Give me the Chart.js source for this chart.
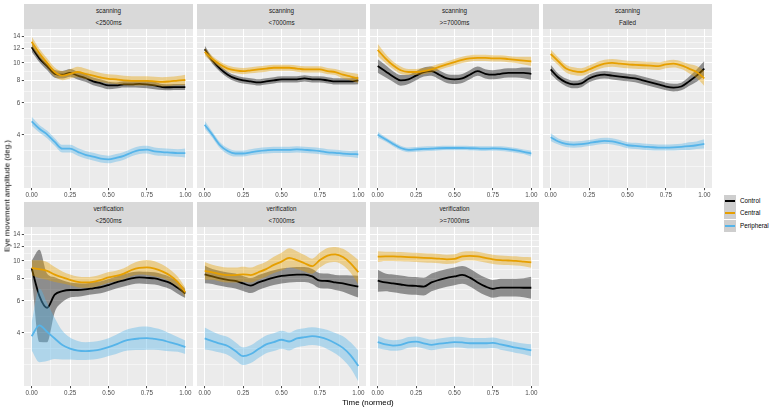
<!DOCTYPE html>
<html>
<head>
<meta charset="utf-8">
<script src="https://cdn.jsdelivr.net/npm/chart.js@4.4.1/dist/chart.umd.min.js"></script>
<style>
  body { margin: 0; width: 775px; height: 411px; background: #fff; position: relative; overflow: hidden;
         font-family: "Liberation Sans", Arial, sans-serif; }
  canvas { position: absolute; }
  .strip { position: absolute; background: #d9d9d9; color: #1a1a1a; font-size: 6.3px; }
  .strip span { position: absolute; left: 0; right: 0; text-align: center; line-height: 1; transform: translateY(-50%); }
  .ytitle { position: absolute; font-size: 7.9px; white-space: nowrap; transform: translate(-50%, -50%) rotate(-90deg); }
  .xtitle { position: absolute; font-size: 7.9px; white-space: nowrap; transform: translate(-50%, -50%); }
  .key { position: absolute; background: #cecece; }
  .key i { position: absolute; left: 1.3px; right: 1.3px; top: 50%; height: 1.8px; margin-top: -0.9px; }
  .ltext { position: absolute; font-size: 6.3px; line-height: 1; transform: translateY(-50%); }
</style>
</head>
<body>
<script>
// time axis (normed), shared by every panel
const timePoints = [0, 0.05, 0.1, 0.15, 0.2, 0.25, 0.3, 0.35, 0.4, 0.45, 0.5,
                    0.55, 0.6, 0.65, 0.7, 0.75, 0.8, 0.85, 0.9, 0.95, 1];

const groups = ["Control", "Central", "Peripheral"];
const groupColors = ["#000000", "#E69F00", "#56B4E9"];
const groupFills = ["rgba(0,0,0,0.4)", "rgba(230,159,0,0.4)", "rgba(86,180,233,0.4)"];

const facetPhase = ["scanning", "scanning", "scanning", "scanning", "verification", "verification", "verification"];
const facetWindow = ["<2500ms", "<7000ms", ">=7000ms", "Failed", "<2500ms", "<7000ms", ">=7000ms"];

const yMajor = [4, 6, 8, 10, 12, 14];
const yMinor = [2.667, 3.266, 4.899, 6.928, 8.944, 10.954, 12.961];
const xMajor = [0, 0.25, 0.5, 0.75, 1];
const xMinor = [0.125, 0.375, 0.625, 0.875];
const xTickLabels = ["0.00", "0.25", "0.50", "0.75", "1.00"];

// smoothed means and confidence band (multiplicative half width) per facet
const scan2500Control = [12.2, 10.6, 9.6, 8.7, 8.6, 8.8, 8.5, 8.25, 7.9, 7.7, 7.5, 7.5, 7.6, 7.6, 7.65, 7.6, 7.5, 7.35, 7.33, 7.35, 7.35];
const scan2500ControlBand = [1.06, 1.05, 1.05, 1.05, 1.05, 1.05, 1.05, 1.05, 1.05, 1.05, 1.05, 1.04, 1.04, 1.04, 1.05, 1.05, 1.05, 1.04, 1.04, 1.04, 1.04];
const scan2500Central = [13.1, 11.3, 10.0, 8.9, 8.5, 8.7, 8.9, 8.7, 8.5, 8.3, 8.15, 8.1, 8.0, 7.95, 7.95, 7.95, 7.9, 7.85, 7.9, 7.98, 8.04];
const scan2500CentralBand = [1.07, 1.06, 1.06, 1.06, 1.06, 1.06, 1.07, 1.07, 1.06, 1.06, 1.06, 1.06, 1.06, 1.06, 1.06, 1.06, 1.06, 1.06, 1.06, 1.06, 1.07];
const scan2500Peripheral = [4.75, 4.32, 4.02, 3.65, 3.35, 3.35, 3.22, 3.1, 3.03, 2.95, 2.92, 2.98, 3.06, 3.19, 3.29, 3.31, 3.24, 3.21, 3.19, 3.17, 3.17];
const scan2500PeripheralBand = [1.06, 1.05, 1.05, 1.05, 1.05, 1.05, 1.05, 1.05, 1.05, 1.05, 1.05, 1.05, 1.05, 1.05, 1.05, 1.05, 1.05, 1.05, 1.05, 1.05, 1.06];

const scan7000Control = [11.9, 10.3, 9.3, 8.6, 8.2, 8.0, 7.9, 7.8, 7.9, 8.0, 8.1, 8.1, 8.1, 8.2, 8.1, 8.1, 8.0, 7.9, 7.9, 7.9, 8.0];
const scan7000ControlBand = [1.05, 1.04, 1.04, 1.04, 1.04, 1.04, 1.04, 1.04, 1.04, 1.04, 1.04, 1.04, 1.04, 1.04, 1.04, 1.04, 1.04, 1.04, 1.04, 1.04, 1.05];
const scan7000Central = [11.5, 10.5, 9.8, 9.3, 9.1, 9.0, 9.1, 9.2, 9.3, 9.4, 9.4, 9.4, 9.3, 9.2, 9.2, 9.2, 9.0, 8.9, 8.6, 8.4, 8.2];
const scan7000CentralBand = [1.05, 1.04, 1.04, 1.04, 1.04, 1.04, 1.04, 1.04, 1.04, 1.04, 1.04, 1.04, 1.04, 1.04, 1.04, 1.04, 1.04, 1.04, 1.05, 1.05, 1.06];
const scan7000Peripheral = [4.55, 4.0, 3.5, 3.25, 3.15, 3.15, 3.2, 3.25, 3.28, 3.3, 3.3, 3.3, 3.32, 3.3, 3.28, 3.25, 3.2, 3.18, 3.15, 3.13, 3.12];
const scan7000PeripheralBand = [1.05, 1.04, 1.04, 1.04, 1.04, 1.04, 1.04, 1.04, 1.04, 1.04, 1.04, 1.04, 1.04, 1.04, 1.04, 1.04, 1.04, 1.04, 1.04, 1.04, 1.05];

const scanOver7000Control = [9.6, 9.0, 8.4, 8.0, 8.1, 8.5, 8.9, 9.0, 8.6, 8.2, 8.1, 8.2, 8.6, 9.0, 8.7, 8.6, 8.7, 8.8, 8.8, 8.8, 8.7];
const scanOver7000ControlBand = [1.09, 1.08, 1.07, 1.07, 1.06, 1.06, 1.06, 1.06, 1.06, 1.06, 1.06, 1.06, 1.06, 1.06, 1.06, 1.06, 1.06, 1.06, 1.06, 1.07, 1.08];
const scanOver7000Central = [11.8, 10.6, 9.7, 9.1, 8.9, 8.9, 9.0, 9.2, 9.5, 9.8, 10.1, 10.4, 10.6, 10.65, 10.65, 10.6, 10.6, 10.5, 10.4, 10.3, 10.2];
const scanOver7000CentralBand = [1.08, 1.06, 1.05, 1.05, 1.04, 1.04, 1.04, 1.04, 1.04, 1.04, 1.04, 1.04, 1.04, 1.04, 1.04, 1.04, 1.04, 1.04, 1.04, 1.05, 1.06];
const scanOver7000Peripheral = [4.0, 3.78, 3.56, 3.38, 3.3, 3.32, 3.34, 3.35, 3.37, 3.38, 3.38, 3.38, 3.37, 3.36, 3.35, 3.36, 3.35, 3.32, 3.28, 3.22, 3.15];
const scanOver7000PeripheralBand = [1.04, 1.03, 1.03, 1.03, 1.03, 1.03, 1.03, 1.03, 1.03, 1.03, 1.03, 1.03, 1.03, 1.03, 1.03, 1.03, 1.03, 1.03, 1.03, 1.03, 1.04];

const scanFailedControl = [9.2, 8.3, 7.8, 7.6, 7.7, 8.2, 8.5, 8.6, 8.5, 8.4, 8.3, 8.2, 8.0, 7.8, 7.6, 7.4, 7.3, 7.4, 7.9, 8.5, 9.3];
const scanFailedControlBand = [1.06, 1.05, 1.05, 1.05, 1.05, 1.05, 1.05, 1.05, 1.05, 1.05, 1.05, 1.05, 1.05, 1.05, 1.05, 1.05, 1.05, 1.05, 1.06, 1.08, 1.1];
const scanFailedCentral = [11.2, 10.2, 9.3, 9.0, 8.9, 9.2, 9.6, 9.9, 10.0, 9.9, 9.8, 9.75, 9.7, 9.65, 9.6, 9.8, 9.9, 9.7, 9.3, 8.9, 8.2];
const scanFailedCentralBand = [1.06, 1.05, 1.05, 1.05, 1.05, 1.05, 1.05, 1.05, 1.05, 1.05, 1.05, 1.05, 1.05, 1.05, 1.05, 1.05, 1.05, 1.05, 1.06, 1.08, 1.1];
const scanFailedPeripheral = [3.88, 3.67, 3.56, 3.53, 3.55, 3.6, 3.66, 3.7, 3.68, 3.6, 3.5, 3.47, 3.44, 3.42, 3.4, 3.4, 3.41, 3.43, 3.46, 3.5, 3.56];
const scanFailedPeripheralBand = [1.05, 1.04, 1.04, 1.04, 1.04, 1.04, 1.04, 1.04, 1.04, 1.04, 1.04, 1.04, 1.04, 1.04, 1.04, 1.04, 1.04, 1.04, 1.05, 1.05, 1.06];

const verif2500Control = [9.1, 6.4, 5.5, 6.5, 6.8, 6.9, 6.9, 6.95, 7.05, 7.15, 7.35, 7.6, 7.8, 8.0, 8.1, 8.05, 8.0, 7.8, 7.55, 7.1, 6.6];
const verif2500ControlBand = [1.1, 1.8, 1.55, 1.25, 1.15, 1.1, 1.09, 1.08, 1.08, 1.08, 1.08, 1.08, 1.08, 1.08, 1.08, 1.08, 1.08, 1.08, 1.08, 1.08, 1.06];
const verif2500Central = [9.15, 9.0, 8.8, 8.4, 8.1, 7.85, 7.65, 7.6, 7.65, 7.85, 8.1, 8.25, 8.5, 8.9, 9.15, 9.2, 9.05, 8.75, 8.3, 7.65, 6.7];
const verif2500CentralBand = [1.1, 1.12, 1.12, 1.1, 1.08, 1.07, 1.07, 1.07, 1.07, 1.07, 1.07, 1.07, 1.07, 1.08, 1.09, 1.1, 1.1, 1.09, 1.08, 1.07, 1.06];
const verif2500Peripheral = [3.83, 4.4, 4.05, 3.72, 3.42, 3.27, 3.19, 3.17, 3.19, 3.24, 3.33, 3.45, 3.6, 3.68, 3.72, 3.74, 3.7, 3.64, 3.54, 3.45, 3.33];
const verif2500PeripheralBand = [1.2, 1.6, 1.45, 1.3, 1.2, 1.15, 1.13, 1.12, 1.12, 1.12, 1.12, 1.13, 1.14, 1.15, 1.16, 1.16, 1.15, 1.14, 1.12, 1.1, 1.09];

const verif7000Control = [8.43, 8.2, 8.0, 7.85, 7.74, 7.5, 7.3, 7.6, 7.85, 8.08, 8.25, 8.35, 8.4, 8.4, 8.2, 7.77, 7.74, 7.6, 7.5, 7.35, 7.2];
const verif7000ControlBand = [1.12, 1.1, 1.1, 1.1, 1.1, 1.1, 1.1, 1.1, 1.1, 1.1, 1.1, 1.1, 1.1, 1.1, 1.1, 1.1, 1.1, 1.1, 1.11, 1.13, 1.15];
const verif7000Central = [8.8, 8.65, 8.45, 8.35, 8.35, 8.43, 8.35, 8.65, 9.0, 9.5, 9.9, 10.4, 10.1, 9.7, 9.35, 10.1, 10.7, 10.86, 10.5, 9.7, 8.65];
const verif7000CentralBand = [1.12, 1.1, 1.1, 1.1, 1.1, 1.1, 1.1, 1.1, 1.1, 1.11, 1.12, 1.13, 1.12, 1.11, 1.1, 1.1, 1.1, 1.1, 1.11, 1.13, 1.17];
const verif7000Peripheral = [3.72, 3.6, 3.48, 3.38, 3.17, 2.97, 3.05, 3.25, 3.45, 3.55, 3.66, 3.58, 3.72, 3.78, 3.83, 3.78, 3.67, 3.5, 3.3, 3.0, 2.62];
const verif7000PeripheralBand = [1.15, 1.13, 1.12, 1.12, 1.12, 1.12, 1.12, 1.12, 1.12, 1.12, 1.12, 1.12, 1.12, 1.12, 1.12, 1.12, 1.13, 1.14, 1.16, 1.18, 1.22];

const verifOver7000Control = [7.77, 7.6, 7.5, 7.4, 7.3, 7.27, 7.2, 7.6, 7.85, 8.05, 8.2, 8.36, 8.08, 7.6, 7.22, 7.0, 7.12, 7.12, 7.12, 7.1, 7.1];
const verifOver7000ControlBand = [1.15, 1.12, 1.12, 1.12, 1.12, 1.12, 1.12, 1.12, 1.12, 1.12, 1.12, 1.12, 1.12, 1.12, 1.12, 1.12, 1.12, 1.12, 1.12, 1.13, 1.15];
const verifOver7000Central = [10.55, 10.6, 10.6, 10.55, 10.5, 10.45, 10.4, 10.35, 10.3, 10.2, 10.25, 10.6, 10.65, 10.6, 10.4, 10.2, 10.1, 10.05, 10.0, 9.9, 9.8];
const verifOver7000CentralBand = [1.07, 1.06, 1.06, 1.06, 1.06, 1.06, 1.06, 1.06, 1.06, 1.06, 1.06, 1.06, 1.06, 1.06, 1.06, 1.06, 1.06, 1.06, 1.06, 1.06, 1.07];
const verifOver7000Peripheral = [3.55, 3.45, 3.4, 3.43, 3.54, 3.57, 3.5, 3.43, 3.48, 3.52, 3.55, 3.54, 3.5, 3.5, 3.5, 3.52, 3.45, 3.38, 3.31, 3.26, 3.2];
const verifOver7000PeripheralBand = [1.08, 1.07, 1.07, 1.07, 1.07, 1.07, 1.07, 1.07, 1.07, 1.07, 1.07, 1.07, 1.07, 1.07, 1.07, 1.07, 1.07, 1.07, 1.07, 1.07, 1.08];

// one entry per facet, same order as the strips: [means, bands] for Control, Central, Peripheral
const facetSeries = [
  [[scan2500Control, scan2500ControlBand], [scan2500Central, scan2500CentralBand], [scan2500Peripheral, scan2500PeripheralBand]],
  [[scan7000Control, scan7000ControlBand], [scan7000Central, scan7000CentralBand], [scan7000Peripheral, scan7000PeripheralBand]],
  [[scanOver7000Control, scanOver7000ControlBand], [scanOver7000Central, scanOver7000CentralBand], [scanOver7000Peripheral, scanOver7000PeripheralBand]],
  [[scanFailedControl, scanFailedControlBand], [scanFailedCentral, scanFailedCentralBand], [scanFailedPeripheral, scanFailedPeripheralBand]],
  [[verif2500Control, verif2500ControlBand], [verif2500Central, verif2500CentralBand], [verif2500Peripheral, verif2500PeripheralBand]],
  [[verif7000Control, verif7000ControlBand], [verif7000Central, verif7000CentralBand], [verif7000Peripheral, verif7000PeripheralBand]],
  [[verifOver7000Control, verifOver7000ControlBand], [verifOver7000Central, verifOver7000CentralBand], [verifOver7000Peripheral, verifOver7000PeripheralBand]],
];

// layout (px)
const COL_LEFT = [24, 197, 370, 543];
const ROW_TOP = [4, 202];
const PANEL_W = 169, PANEL_H = 159, STRIP_H = 25;
const Y_AXIS_W = 24, X_AXIS_H = 12;
const Y_MIN = 2.03, Y_MAX = 15.4;

const tickFont = { family: '"Liberation Sans", Arial, sans-serif', size: 6.3 };

const panelBg = {
  id: "panelBg",
  beforeDraw(chart) {
    const { ctx, chartArea: a } = chart;
    ctx.save();
    ctx.fillStyle = "#ebebeb";
    ctx.fillRect(a.left, a.top, a.right - a.left, a.bottom - a.top);
    ctx.restore();
  },
};

function noPadding(scale) {
  scale.paddingLeft = 0; scale.paddingRight = 0;
  scale.paddingTop = 0; scale.paddingBottom = 0;
}

function buildDatasets(series) {
  const sets = [];
  // Chart.js paints the last dataset first, so push Peripheral first to end with Control at the bottom
  for (let g = groups.length - 1; g >= 0; g--) {
    const [mean, band] = series[g];
    sets.push({
      label: groups[g],
      data: timePoints.map((t, i) => ({ x: t, y: mean[i] })),
      borderColor: groupColors[g], borderWidth: 1.8, fill: false,
    });
    sets.push({
      label: groups[g] + " upper",
      data: timePoints.map((t, i) => ({ x: t, y: mean[i] * band[i] })),
      borderWidth: 0, borderColor: "rgba(0,0,0,0)",
      backgroundColor: groupFills[g], fill: "+1",
    });
    sets.push({
      label: groups[g] + " lower",
      data: timePoints.map((t, i) => ({ x: t, y: mean[i] / band[i] })),
      borderWidth: 0, borderColor: "rgba(0,0,0,0)", fill: false,
    });
  }
  return sets;
}

facetSeries.forEach((series, k) => {
  const col = k % 4, row = Math.floor(k / 4);
  const axisW = col === 0 ? Y_AXIS_W : 0;
  const panelTop = ROW_TOP[row] + STRIP_H;

  const strip = document.createElement("div");
  strip.className = "strip";
  strip.style.left = COL_LEFT[col] + "px";
  strip.style.top = ROW_TOP[row] + "px";
  strip.style.width = PANEL_W + "px";
  strip.style.height = STRIP_H + "px";
  strip.innerHTML = `<span style="top:6.5px">${facetPhase[k]}</span><span style="top:18.8px">${facetWindow[k].replace("<", "&lt;").replace(">", "&gt;")}</span>`;
  document.body.appendChild(strip);

  const canvas = document.createElement("canvas");
  canvas.width = PANEL_W + axisW;
  canvas.height = PANEL_H + X_AXIS_H;
  canvas.style.left = (COL_LEFT[col] - axisW) + "px";
  canvas.style.top = panelTop + "px";
  document.body.appendChild(canvas);

  new Chart(canvas, {
    type: "line",
    data: { datasets: buildDatasets(series) },
    options: {
      responsive: false,
      animation: false,
      events: [],
      layout: { padding: 0 },
      elements: { point: { radius: 0 }, line: { cubicInterpolationMode: "monotone" } },
      plugins: { legend: { display: false }, tooltip: { enabled: false } },
      scales: {
        x: {
          type: "linear", min: -0.05, max: 1.05,
          afterBuildTicks: (s) => { s.ticks = xMajor.concat(xMinor).sort((a, b) => a - b).map((v) => ({ value: v })); },
          afterFit: (s) => { s.height = X_AXIS_H; noPadding(s); },
          border: { display: false },
          grid: {
            color: "#ffffff",
            lineWidth: (c) => (xMajor.includes(c.tick.value) ? 1.05 : 0.5),
            tickLength: 2.2, tickWidth: 0.9,
            tickColor: (c) => (xMajor.includes(c.tick.value) ? "#333333" : "rgba(0,0,0,0)"),
          },
          ticks: {
            autoSkip: false, maxRotation: 0, padding: 1, color: "#4d4d4d", font: tickFont,
            callback: (v) => { const i = xMajor.indexOf(v); return i >= 0 ? xTickLabels[i] : ""; },
          },
        },
        y: {
          type: "logarithmic", min: Y_MIN, max: Y_MAX,
          afterBuildTicks: (s) => { s.ticks = yMajor.concat(yMinor).sort((a, b) => a - b).map((v) => ({ value: v })); },
          afterFit: (s) => { s.width = axisW; noPadding(s); },
          border: { display: false },
          grid: {
            color: "#ffffff",
            lineWidth: (c) => (yMajor.includes(c.tick.value) ? 1.05 : 0.5),
            drawTicks: col === 0,
            tickLength: 2.2, tickWidth: 0.9,
            tickColor: (c) => (yMajor.includes(c.tick.value) ? "#333333" : "rgba(0,0,0,0)"),
          },
          ticks: {
            display: col === 0, autoSkip: false, padding: 1.5, color: "#4d4d4d", font: tickFont,
            callback: (v) => (yMajor.includes(v) ? String(v) : ""),
          },
        },
      },
    },
    plugins: [panelBg],
  });
});

// axis titles
const yTitle = document.createElement("div");
yTitle.className = "ytitle";
yTitle.style.left = "7.3px"; yTitle.style.top = "195.5px";
yTitle.textContent = "Eye movement amplitude (deg.)";
document.body.appendChild(yTitle);

const xTitle = document.createElement("div");
xTitle.className = "xtitle";
xTitle.style.left = "368px"; xTitle.style.top = "401.5px";
xTitle.textContent = "Time (normed)";
document.body.appendChild(xTitle);

// legend
const KEY_SIZE = 12.4, LEGEND_LEFT = 724, LEGEND_TOP = 194.7;
groups.forEach((g, i) => {
  const key = document.createElement("div");
  key.className = "key";
  key.style.left = LEGEND_LEFT + "px";
  key.style.top = (LEGEND_TOP + i * KEY_SIZE) + "px";
  key.style.width = KEY_SIZE + "px";
  key.style.height = KEY_SIZE + "px";
  key.innerHTML = `<i style="background:${groupColors[i]}"></i>`;
  document.body.appendChild(key);

  const label = document.createElement("div");
  label.className = "ltext";
  label.style.left = (LEGEND_LEFT + KEY_SIZE + 3.6) + "px";
  label.style.top = (LEGEND_TOP + i * KEY_SIZE + KEY_SIZE / 2) + "px";
  label.textContent = g;
  document.body.appendChild(label);
});
</script>
</body>
</html>
